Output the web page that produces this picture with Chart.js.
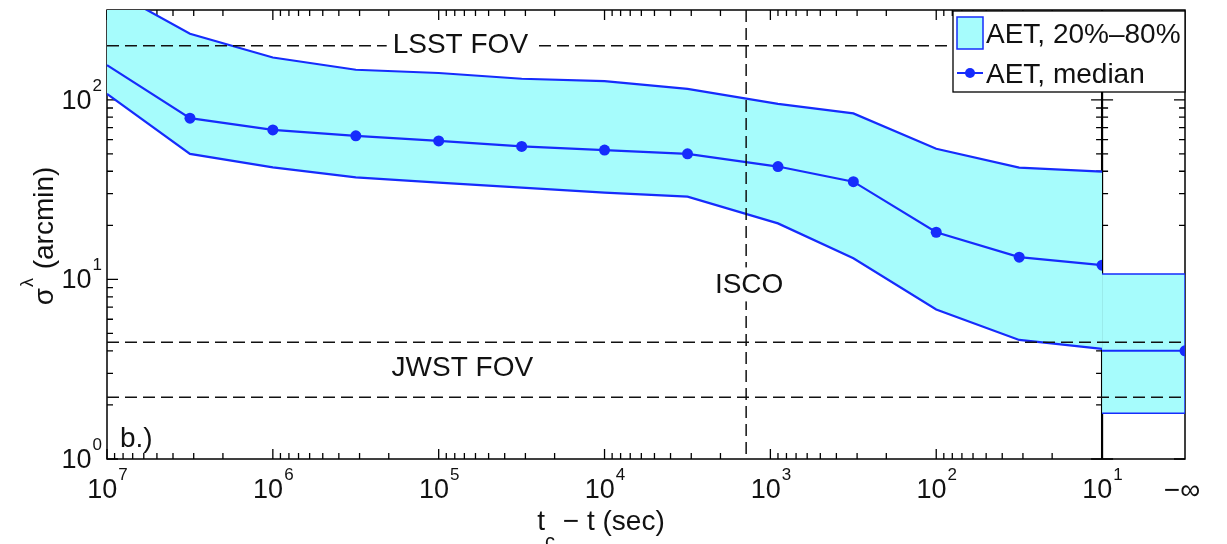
<!DOCTYPE html>
<html>
<head>
<meta charset="utf-8">
<script src="https://cdn.jsdelivr.net/npm/chart.js@4.4.1/dist/chart.umd.min.js"></script>
<style>
  html, body { margin: 0; padding: 0; background: #fff; }
</style>
</head>
<body>
<canvas id="sigmaChart" width="1227" height="544"></canvas>
<script>
// time to coalescence (s) and localisation width (arcmin)
const timeSec     = [1e7, 3.16e6, 1e6, 3.16e5, 1e5, 3.16e4, 1e4, 3.16e3, 900, 316, 100, 31.6, 10];
const upper80     = [420, 233, 172, 147, 141, 131, 127, 115, 95, 84, 53.4, 41.9, 39.8];
const lower20     = [108, 50, 42, 37, 34.6, 32.4, 30.4, 28.9, 20.5, 13.1, 6.8, 4.6, 4.1];
const medianSigma = [156, 79, 68, 63, 59, 55, 52.5, 50, 42.5, 35, 18.3, 13.3, 12];

// last panel: t -> -inf, drawn between 10 s and 10^0.5 on the axis
const finalTime   = [10, 3.162];
const finalUpper  = [10.7, 10.7];
const finalLower  = [1.8, 1.8];
const finalMedian = [4.0, 4.0];

const xTickValues = [1e7, 1e6, 1e5, 1e4, 1e3, 1e2, 1e1];
const xTickExp    = ['7', '6', '5', '4', '3', '2', '1'];
const yTickValues = [1, 10, 100];
const yTickExp    = ['0', '1', '2'];

const lsstFov  = 200;
const jwstFov  = [4.47, 2.21];
const iscoTime = 1400;

const BLUE = 'rgb(22,44,252)';
const CYAN = 'rgb(166,252,252)';
const FONT = '"Liberation Sans", Arial, Helvetica, sans-serif';

function pts(xs, ys) {
  return xs.map((x, i) => ({ x: x, y: ys[i] }));
}

// closed outline for the -inf panel band
const finalBox = [
  { x: finalTime[0], y: finalUpper[0] },
  { x: finalTime[1], y: finalUpper[1] },
  { x: finalTime[1], y: finalLower[1] },
  { x: finalTime[0], y: finalLower[0] }
];

function dashedLine(ctx, x1, y1, x2, y2) {
  ctx.save();
  ctx.strokeStyle = '#111';
  ctx.lineWidth = 1.5;
  ctx.setLineDash([12, 6]);
  ctx.beginPath();
  ctx.moveTo(x1, y1);
  ctx.lineTo(x2, y2);
  ctx.stroke();
  ctx.restore();
}

function powLabel(ctx, exp, x, y, align) {
  ctx.font = '27px ' + FONT;
  const wb = ctx.measureText('10').width;
  ctx.font = '17px ' + FONT;
  const we = ctx.measureText(exp).width;
  const x0 = align === 'center' ? x - (wb + we) / 2 : x - (wb + we);
  ctx.textAlign = 'left';
  ctx.textBaseline = 'alphabetic';
  ctx.font = '27px ' + FONT;
  ctx.fillText('10', x0, y);
  ctx.font = '17px ' + FONT;
  ctx.fillText(exp, x0 + wb + 1, y - 18);
}

function boxedText(ctx, text, cx, baseY) {
  ctx.font = '28px ' + FONT;
  const w = ctx.measureText(text).width;
  ctx.fillStyle = '#fff';
  ctx.fillRect(cx - w / 2 - 6, baseY - 26, w + 12, 34);
  ctx.fillStyle = '#111';
  ctx.textAlign = 'center';
  ctx.textBaseline = 'alphabetic';
  ctx.fillText(text, cx, baseY);
}

const framePlugin = {
  id: 'framePlugin',
  beforeDatasetsDraw(chart) {
    const { ctx, chartArea: a, scales: { x, y } } = chart;
    const split = x.getPixelForValue(10);
    ctx.save();
    ctx.strokeStyle = '#000';
    ctx.lineWidth = 1.5;
    ctx.strokeRect(a.left, a.top, a.right - a.left, a.bottom - a.top);
    ctx.lineWidth = 2.2;
    ctx.beginPath();
    ctx.moveTo(split, a.top);
    ctx.lineTo(split, a.bottom);
    ctx.stroke();

    // log ticks on top and bottom of the main panel
    ctx.lineWidth = 1.3;
    ctx.beginPath();
    for (let e = 1; e <= 7; e++) {
      for (let m = 1; m <= 9; m++) {
        const v = m * Math.pow(10, e);
        if (v > 1e7) break;
        const px = x.getPixelForValue(v);
        const len = m === 1 ? 10 : 6;
        ctx.moveTo(px, a.bottom);
        ctx.lineTo(px, a.bottom - len);
        ctx.moveTo(px, a.top);
        ctx.lineTo(px, a.top + len);
      }
    }
    // y ticks on every vertical axis line, pointing inward
    for (let e = 0; e <= 2; e++) {
      for (let m = 1; m <= 9; m++) {
        const v = m * Math.pow(10, e);
        if (v > y.max) break;
        const py = y.getPixelForValue(v);
        const len = m === 1 ? 11 : 6;
        ctx.moveTo(a.left, py);
        ctx.lineTo(a.left + len, py);
        ctx.moveTo(split - len, py);
        ctx.lineTo(split + len, py);
        ctx.moveTo(a.right, py);
        ctx.lineTo(a.right - len, py);
      }
    }
    ctx.stroke();
    ctx.restore();
  },
  afterDatasetsDraw(chart) {
    const { ctx, chartArea: a, scales: { x, y } } = chart;
    ctx.save();

    // reference lines
    const lsstY = y.getPixelForValue(lsstFov);
    dashedLine(ctx, a.left, lsstY, a.right, lsstY);
    jwstFov.forEach(v => {
      const py = y.getPixelForValue(v);
      dashedLine(ctx, a.left, py, a.right, py);
    });
    const iscoX = x.getPixelForValue(iscoTime);
    dashedLine(ctx, iscoX, a.top, iscoX, a.bottom);

    boxedText(ctx, 'LSST FOV', x.getPixelForValue(7.4e4), lsstY + 7);
    boxedText(ctx, 'ISCO', iscoX + 3, y.getPixelForValue(9.5) + 10);
    ctx.font = '28px ' + FONT;
    ctx.textAlign = 'center';
    ctx.fillStyle = '#111';
    ctx.fillText('JWST FOV', x.getPixelForValue(7.2e4), y.getPixelForValue(3.3) + 10);
    ctx.textAlign = 'left';
    ctx.fillText('b.)', a.left + 13, a.bottom - 12);

    // tick labels
    ctx.fillStyle = '#111';
    xTickValues.forEach((v, i) => powLabel(ctx, xTickExp[i], x.getPixelForValue(v), a.bottom + 39, 'center'));
    yTickValues.forEach((v, i) => powLabel(ctx, yTickExp[i], a.left - 6, y.getPixelForValue(v) + 9, 'right'));
    ctx.font = '28px ' + FONT;
    ctx.textAlign = 'center';
    ctx.textBaseline = 'middle';
    ctx.fillText('\u2212\u221e', x.getPixelForValue(finalTime[1]) - 3, a.bottom + 32);

    // x axis title: t_c - t (sec)
    ctx.textBaseline = 'alphabetic';
    ctx.textAlign = 'left';
    ctx.font = '28px ' + FONT;
    const tW = ctx.measureText('t').width;
    const restText = ' \u2212 t (sec)';
    const restW = ctx.measureText(restText).width;
    ctx.font = '20px ' + FONT;
    const cW = ctx.measureText('c').width;
    let tx = 601 - (tW + cW + restW) / 2;
    ctx.font = '28px ' + FONT;
    ctx.fillText('t', tx, 530);
    ctx.font = '20px ' + FONT;
    ctx.fillText('c', tx + tW, 548);
    ctx.font = '28px ' + FONT;
    ctx.fillText(restText, tx + tW + cW, 530);

    // y axis title: sigma^lambda (arcmin)
    ctx.save();
    ctx.translate(53, 237);
    ctx.rotate(-Math.PI / 2);
    ctx.font = '28px ' + FONT;
    const sW = ctx.measureText('\u03c3').width;
    const arcText = ' (arcmin)';
    const arcW = ctx.measureText(arcText).width;
    ctx.font = '18px ' + FONT;
    const lW = ctx.measureText('\u03bb').width;
    let sx = -(sW + lW + arcW) / 2;
    ctx.font = '28px ' + FONT;
    ctx.fillText('\u03c3', sx, 0);
    ctx.font = '18px ' + FONT;
    ctx.fillText('\u03bb', sx + sW + 1, -20);
    ctx.font = '28px ' + FONT;
    ctx.fillText(arcText, sx + sW + lW + 2, 0);
    ctx.restore();

    // legend
    const lx = 953, ly = 11, lw = a.right - lx, lh = 81;
    ctx.fillStyle = '#fff';
    ctx.fillRect(lx, ly, lw, lh);
    ctx.strokeStyle = '#000';
    ctx.lineWidth = 1.3;
    ctx.strokeRect(lx, ly, lw, lh);
    ctx.fillStyle = CYAN;
    ctx.fillRect(957, 17, 26, 32);
    ctx.strokeStyle = BLUE;
    ctx.lineWidth = 1.5;
    ctx.strokeRect(957, 17, 26, 32);
    ctx.lineWidth = 2;
    ctx.beginPath();
    ctx.moveTo(957, 73);
    ctx.lineTo(983, 73);
    ctx.stroke();
    ctx.fillStyle = BLUE;
    ctx.beginPath();
    ctx.arc(970, 73, 5, 0, Math.PI * 2);
    ctx.fill();
    ctx.fillStyle = '#111';
    ctx.font = '28px ' + FONT;
    ctx.textAlign = 'left';
    ctx.textBaseline = 'alphabetic';
    ctx.fillText('AET, 20%\u201380%', 986, 43);
    ctx.fillText('AET, median', 986, 83);

    ctx.restore();
  }
};

new Chart(document.getElementById('sigmaChart').getContext('2d'), {
  type: 'line',
  data: {
    datasets: [
      {
        label: 'AET, median (-inf)',
        data: pts(finalTime, finalMedian),
        borderColor: BLUE,
        backgroundColor: BLUE,
        borderWidth: 2,
        pointRadius: [0, 5.5],
        pointBorderWidth: 0,
        fill: false,
        order: 0
      },
      {
        label: 'AET, 20%-80% (-inf)',
        data: finalBox,
        borderColor: BLUE,
        backgroundColor: CYAN,
        borderWidth: 1.5,
        pointRadius: 0,
        fill: 'shape',
        order: 1
      },
      {
        label: 'AET, median',
        data: pts(timeSec, medianSigma),
        borderColor: BLUE,
        backgroundColor: BLUE,
        borderWidth: 2.2,
        pointRadius: medianSigma.map((v, i) => (i === 0 ? 0 : 5.5)),
        pointBorderWidth: 0,
        fill: false,
        clip: { left: false, top: false, right: -83, bottom: false },
        order: 2
      },
      {
        label: 'AET, 80%',
        data: pts(timeSec, upper80),
        borderColor: BLUE,
        backgroundColor: CYAN,
        borderWidth: 2.2,
        pointRadius: 0,
        fill: '+1',
        order: 4
      },
      {
        label: 'AET, 20%',
        data: pts(timeSec, lower20),
        borderColor: BLUE,
        borderWidth: 2.2,
        pointRadius: 0,
        fill: false,
        order: 3
      }
    ]
  },
  options: {
    responsive: false,
    animation: false,
    layout: { padding: { left: 107, right: 42, top: 10, bottom: 85 } },
    scales: {
      x: { type: 'logarithmic', reverse: true, min: 3.162, max: 1e7, display: false },
      y: { type: 'logarithmic', min: 1, max: 316.2, display: false }
    },
    elements: { line: { tension: 0 } },
    plugins: {
      legend: { display: false },
      tooltip: { enabled: false }
    }
  },
  plugins: [framePlugin]
});
</script>
</body>
</html>
